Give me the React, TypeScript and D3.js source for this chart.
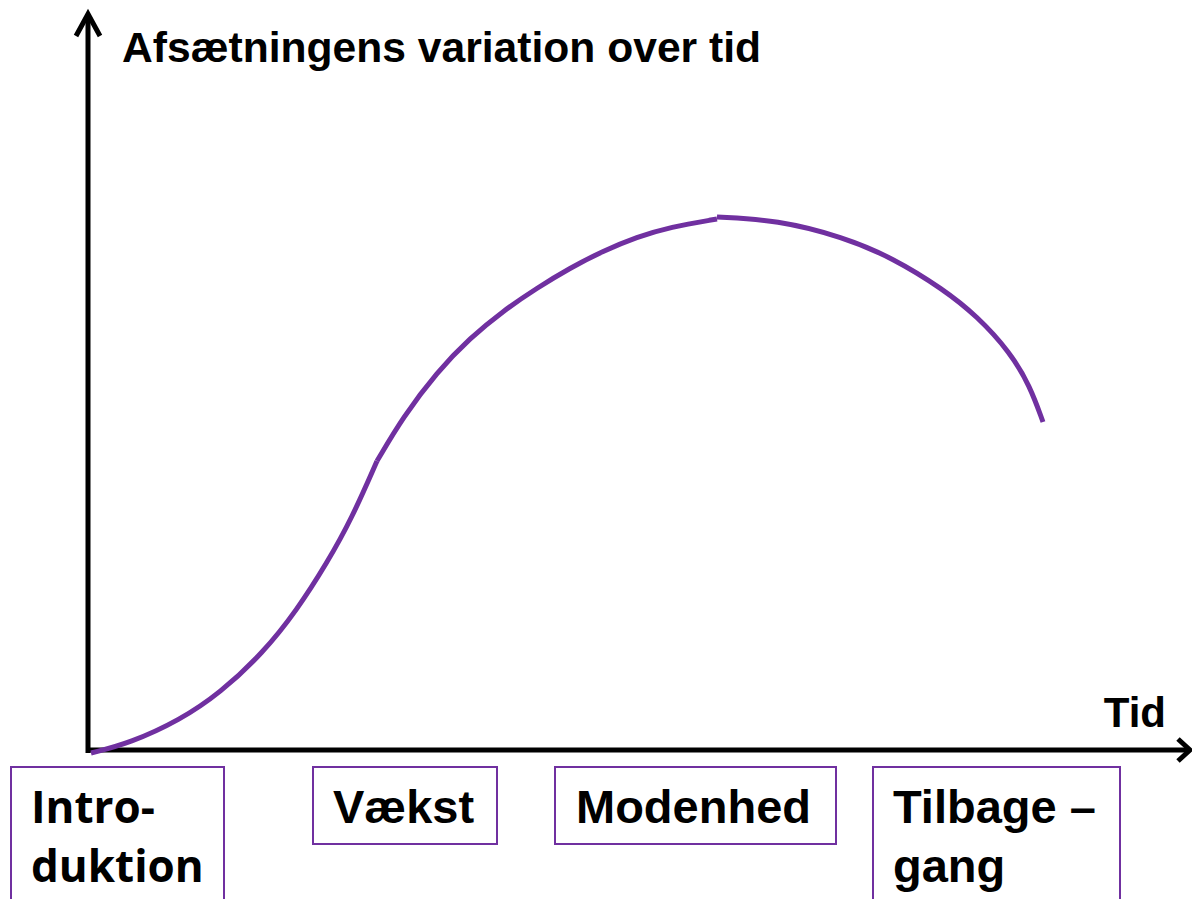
import { useEffect, useRef } from 'react';
import * as d3 from 'd3';

// sales curve, (time, sales) in chart units
const introduction: [number, number][] = [
  [3, -3], [42, 7], [92, 30], [132, 57], [175, 97], [209, 140], [239, 187], [264, 232], [289, 289],
];
const growth: [number, number][] = [
  [289, 289], [315, 333], [349, 378], [382, 412], [415, 439], [449, 462], [482, 482],
  [515, 499], [549, 513], [582, 523], [629, 531],
];
const decline: [number, number][] = [
  [629, 533], [689, 530], [755, 513], [805, 492], [855, 461], [889, 434], [922, 398], [942, 364], [955, 328],
];

const phaseLabels: string[][] = [['Intro-', 'duktion'], ['Vækst'], ['Modenhed'], ['Tilbage –', 'gang']];
const yTitle = 'Afsætningens variation over tid';
const xTitle = 'Tid';

const W = 1192;
const H = 899;
const PURPLE = '#7030a0';

// label boxes: left, right, bottom, text x
const boxLayout = [
  { x0: 11, x1: 224, y1: 905, tx: 31, font: '"Open Sans", "Noto Sans", sans-serif' },
  { x0: 313, x1: 497, y1: 844, tx: 333, font: 'Arial, "Liberation Sans", sans-serif' },
  { x0: 555, x1: 836, y1: 844, tx: 576, font: 'Arial, "Liberation Sans", sans-serif' },
  { x0: 873, x1: 1120, y1: 905, tx: 893, font: 'Arial, "Liberation Sans", sans-serif' },
];

export default function App() {
  const svgRef = useRef<SVGSVGElement>(null);

  useEffect(() => {
    if (!svgRef.current) return;
    const svg = d3.select(svgRef.current);
    svg.selectAll('*').remove();

    const x = d3.scaleLinear().domain([0, 1100]).range([88, 1188]);
    const y = d3.scaleLinear().domain([0, 740]).range([750, 10]);

    const line = d3
      .line<[number, number]>()
      .x((d) => x(d[0]))
      .y((d) => y(d[1]))
      .curve(d3.curveBasis);

    // axes
    const axis = svg.append('g').attr('stroke', '#000').attr('stroke-width', 5).attr('fill', 'none');
    axis.append('line').attr('x1', x(0)).attr('x2', x(0)).attr('y1', y(-3)).attr('y2', y(736));
    axis.append('line').attr('x1', x(-2)).attr('x2', x(1102)).attr('y1', y(0)).attr('y2', y(0));
    axis
      .append('path')
      .attr('d', `M${x(0) - 12},${y(736) + 22}L${x(0)},${y(736)}L${x(0) + 12},${y(736) + 22}`);
    axis
      .append('path')
      .attr('d', `M${x(1102) - 12},${y(0) - 11}L${x(1102)},${y(0)}L${x(1102) - 12},${y(0) + 11}`);

    // curve segments
    [introduction, growth, decline].forEach((seg) => {
      svg
        .append('path')
        .datum(seg)
        .attr('fill', 'none')
        .attr('stroke', PURPLE)
        .attr('stroke-width', 5)
        .attr('d', line);
    });

    svg
      .append('text')
      .attr('x', 122)
      .attr('y', 62)
      .attr('font-family', 'Arial, "Liberation Sans", sans-serif')
      .attr('font-weight', 'bold')
      .attr('font-size', 42.6)
      .text(yTitle);

    svg
      .append('text')
      .attr('x', 1166)
      .attr('y', 727)
      .attr('text-anchor', 'end')
      .attr('font-family', 'Arial, "Liberation Sans", sans-serif')
      .attr('font-weight', 'bold')
      .attr('font-size', 42)
      .text(xTitle);

    phaseLabels.forEach((lines, i) => {
      const b = boxLayout[i];
      svg
        .append('rect')
        .attr('x', b.x0)
        .attr('y', 767)
        .attr('width', b.x1 - b.x0)
        .attr('height', b.y1 - 767)
        .attr('fill', '#fff')
        .attr('stroke', PURPLE)
        .attr('stroke-width', 2);
      const t = svg
        .append('text')
        .attr('font-family', b.font)
        .attr('font-weight', 'bold')
        .attr('font-size', i === 0 ? 44 : 47);
      lines.forEach((s, j) => {
        t.append('tspan').attr('x', b.tx).attr('y', 823 + j * 59).text(s);
      });
    });
  }, []);

  return (
    <div style={{ position: 'absolute', left: 0, top: 0, width: W, height: H, background: '#fff' }}>
      <svg ref={svgRef} width={W} height={H} style={{ display: 'block' }} />
    </div>
  );
}
